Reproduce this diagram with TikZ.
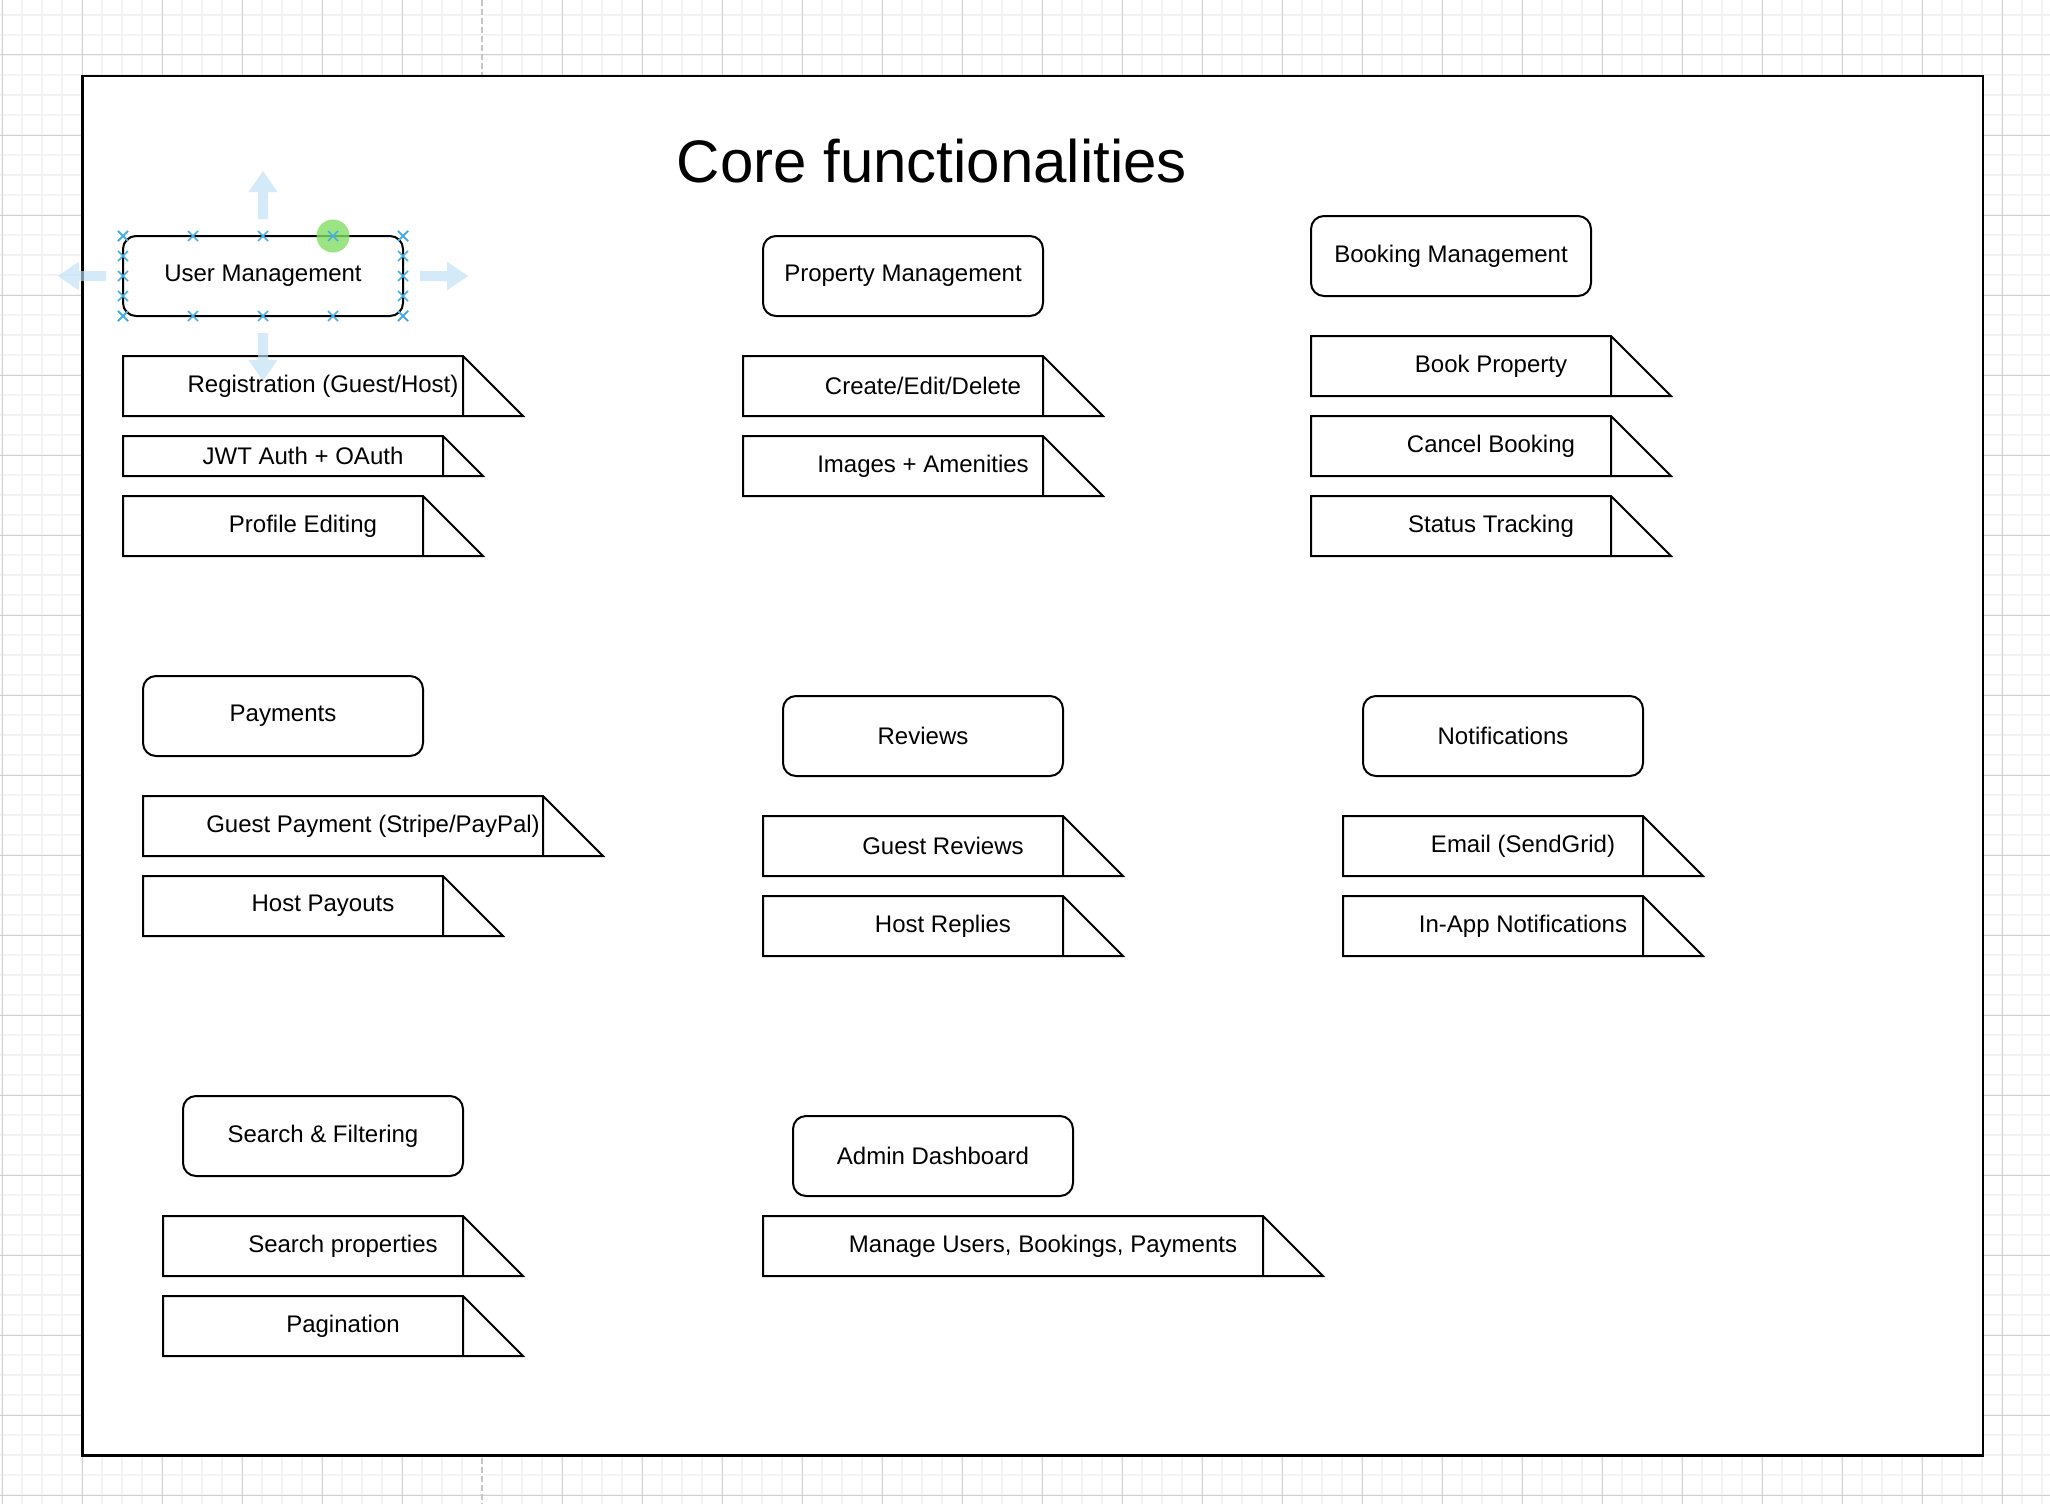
\documentclass[tikz,border=0pt]{standalone}
\usepackage{fontspec}
\setmainfont{Liberation Sans}
\usetikzlibrary{positioning, calc}

\definecolor{gridminor}{RGB}{243,243,243}
\definecolor{gridmajor}{RGB}{210,210,210}
\definecolor{handleblue}{RGB}{70,175,230}
\definecolor{hintblue}{RGB}{190,224,246}
\definecolor{rotgreen}{RGB}{130,222,100}

\begin{document}
\begin{tikzpicture}[x=1pt, y=-1pt,
		heading/.style={draw, rectangle, rounded corners=13pt, line width=2pt, minimum width=280pt, minimum height=80pt, inner sep=0pt, outer sep=0pt, font=\fontsize{24}{29}\selectfont},
		feature/.style={rectangle, minimum height=60pt, inner sep=0pt, outer sep=0pt, font=\fontsize{24}{29}\selectfont},
		handle/.style={draw=handleblue, line width=1.6pt},
		hint/.style={fill=hintblue, fill opacity=0.65}]
		\useasboundingbox (0,0) rectangle (2050,1504);
		
		% canvas grid
		\foreach \i in {0,...,102} \draw[gridminor, line width=2pt] ({2+20*\i},0) -- ({2+20*\i},1504);
		\foreach \j in {0,...,74} \draw[gridminor, line width=2pt] (0,{15+20*\j}) -- (2050,{15+20*\j});
		\foreach \i in {0,...,25} \draw[gridmajor, line width=1pt] ({2+80*\i},0) -- ({2+80*\i},1504);
		\foreach \j in {0,...,18} \draw[gridmajor, line width=1pt] (0,{55+80*\j}) -- (2050,{55+80*\j});
		\draw[white, line width=1.5pt] (482,0) -- (482,1504);
		\draw[gray!45, line width=1.5pt, dash pattern=on 6pt off 3pt] (482,0) -- (482,1504);
		
		\draw[line width=2.6pt, fill=white] (82.5,76) rectangle (1983,1455.5);
		
		\node[font=\fontsize{60}{72}\selectfont] (title) at (932,161) {Core functionalities};
		
		\node[heading] (um) at (263,276) {User Management};
		\node[feature, minimum width=400pt, below right=40pt and 0pt of um.south west] (reg) {Registration (Guest/Host)};
		\node[feature, minimum width=360pt, minimum height=40pt, below right=20pt and 0pt of reg.south west] (jwt) {JWT Auth + OAuth};
		\node[feature, minimum width=360pt, below right=20pt and 0pt of jwt.south west] (prof) {Profile Editing};
		
		\node[heading] (pm) at (903,276) {Property Management};
		\node[feature, minimum width=360pt, below right=40pt and -20pt of pm.south west] (ced) {Create/Edit/Delete};
		\node[feature, minimum width=360pt, below right=20pt and 0pt of ced.south west] (img) {Images + Amenities};
		
		\node[heading] (bm) at (1451,256) {Booking Management};
		\node[feature, minimum width=360pt, below right=40pt and 0pt of bm.south west] (book) {Book Property};
		\node[feature, minimum width=360pt, below right=20pt and 0pt of book.south west] (cancel) {Cancel Booking};
		\node[feature, minimum width=360pt, below right=20pt and 0pt of cancel.south west] (status) {Status Tracking};
		
		\node[heading] (pay) at (283,716) {Payments};
		\node[feature, minimum width=460pt, below right=40pt and 0pt of pay.south west] (gpay) {Guest Payment (Stripe/PayPal)};
		\node[feature, minimum width=360pt, below right=20pt and 0pt of gpay.south west] (hpay) {Host Payouts};
		
		\node[heading] (rev) at (923,736) {Reviews};
		\node[feature, minimum width=360pt, below right=40pt and -20pt of rev.south west] (grev) {Guest Reviews};
		\node[feature, minimum width=360pt, below right=20pt and 0pt of grev.south west] (hrep) {Host Replies};
		
		\node[heading] (notif) at (1503,736) {Notifications};
		\node[feature, minimum width=360pt, below right=40pt and -20pt of notif.south west] (email) {Email (SendGrid)};
		\node[feature, minimum width=360pt, below right=20pt and 0pt of email.south west] (inapp) {In-App Notifications};
		
		\node[heading] (search) at (323,1136) {Search \& Filtering};
		\node[feature, minimum width=360pt, below right=40pt and -20pt of search.south west] (sprop) {Search properties};
		\node[feature, minimum width=360pt, below right=20pt and 0pt of sprop.south west] (pag) {Pagination};
		
		\node[heading] (admin) at (933,1156) {Admin Dashboard};
		\node[feature, minimum width=560pt, below right=20pt and -30pt of admin.south west] (manage) {Manage Users, Bookings, Payments};
		
		% tab outlines
		\foreach \nd in {reg, jwt, prof, ced, img, book, cancel, status, gpay, hpay, grev, hrep, email, inapp, sprop, pag, manage}
		\draw[line width=2pt] let \p1=(\nd.north east), \p2=(\nd.south east) in
		(\nd.north west) -- (\x1-\y1+\y2,\y1) -- (\p2) -- (\nd.south west) -- cycle
		(\x1-\y1+\y2,\y1) -- (\x1-\y1+\y2,\y2);
		
		% selection of User Management
		\foreach \anc/\ang in {north/90, south/270, west/180, east/0}
		\fill[hint, shift={(um.\anc)}, rotate=\ang] (17,-5) -- (44,-5) -- (44,-14.5) -- (65,0) -- (44,14.5) -- (44,5) -- (17,5) -- cycle;
		\fill[rotgreen, fill opacity=0.8] ($(um.north west)+(210,0)$) circle (16.5);
		\foreach \i in {0,...,4} {
			\draw[handle] ($(um.north west)+(70*\i,0)$) +(-5,-5) -- +(5,5) +(-5,5) -- +(5,-5);
			\draw[handle] ($(um.south west)+(70*\i,0)$) +(-5,-5) -- +(5,5) +(-5,5) -- +(5,-5);
			\draw[handle] ($(um.north west)+(0,20*\i)$) +(-5,-5) -- +(5,5) +(-5,5) -- +(5,-5);
			\draw[handle] ($(um.north east)+(0,20*\i)$) +(-5,-5) -- +(5,5) +(-5,5) -- +(5,-5);
		}
\end{tikzpicture}
\end{document}
